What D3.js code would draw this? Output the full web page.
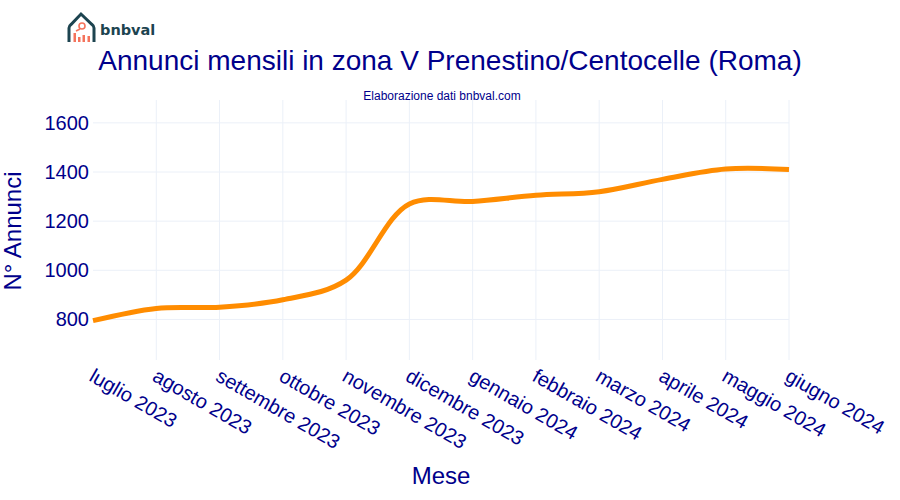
<!DOCTYPE html>
<html>
<head>
<meta charset="utf-8">
<script src="https://cdn.jsdelivr.net/npm/d3@7"></script>
<style>
  html, body { margin: 0; padding: 0; background: #fff; }
  text { font-family: "Liberation Sans", Arial, sans-serif; }
</style>
</head>
<body>
<div id="chart"></div>
<script>
// valori
const mesi = ["luglio 2023", "agosto 2023", "settembre 2023", "ottobre 2023", "novembre 2023", "dicembre 2023",
  "gennaio 2024", "febbraio 2024", "marzo 2024", "aprile 2024", "maggio 2024", "giugno 2024"];
const annunci = [795, 845, 850, 880, 960, 1270, 1280, 1305, 1320, 1370, 1412, 1410];
const yTicks = [800, 1000, 1200, 1400, 1600];

const width = 900, height = 500;
const blu = "#00008b";

const svg = d3.select("#chart").append("svg")
  .attr("width", width)
  .attr("height", height)
  .style("display", "block");

const x = d3.scalePoint().domain(mesi).range([93, 789]);
const y = d3.scaleLinear().domain([635, 1693]).range([360, 100]);

// griglia
svg.append("g").selectAll("line").data(mesi.slice(1)).enter().append("line")
  .attr("x1", d => x(d)).attr("x2", d => x(d))
  .attr("y1", 100).attr("y2", 360)
  .attr("stroke", "#ebf0f8").attr("stroke-width", 1);
svg.append("g").selectAll("line").data(yTicks).enter().append("line")
  .attr("x1", 93).attr("x2", 789)
  .attr("y1", d => y(d)).attr("y2", d => y(d))
  .attr("stroke", "#ebf0f8").attr("stroke-width", 1);

// linea
const line = d3.line()
  .x((d, i) => x(mesi[i]))
  .y(d => y(d))
  .curve(d3.curveCatmullRom.alpha(0.5));
svg.append("path").datum(annunci)
  .attr("d", line)
  .attr("fill", "none")
  .attr("stroke", "#ff8c00")
  .attr("stroke-width", 5);

// etichette assi
svg.append("g").selectAll("text").data(yTicks).enter().append("text")
  .attr("x", 89).attr("y", d => y(d) + 7)
  .attr("text-anchor", "end")
  .attr("font-size", 20).attr("fill", blu)
  .text(d => d);
svg.append("g").selectAll("text").data(mesi).enter().append("text")
  .attr("transform", d => "translate(" + (x(d) - 5) + ",380) rotate(30)")
  .attr("font-size", 20).attr("fill", blu)
  .text(d => d);

// titoli
svg.append("text").attr("x", 450).attr("y", 70)
  .attr("text-anchor", "middle").attr("font-size", 28).attr("fill", blu)
  .text("Annunci mensili in zona V Prenestino/Centocelle (Roma)");
svg.append("text").attr("x", 442).attr("y", 100)
  .attr("text-anchor", "middle").attr("font-size", 12).attr("fill", blu)
  .text("Elaborazione dati bnbval.com");
svg.append("text").attr("x", 441).attr("y", 484)
  .attr("text-anchor", "middle").attr("font-size", 24).attr("fill", blu)
  .text("Mese");
svg.append("text").attr("transform", "translate(21,231) rotate(-90)")
  .attr("text-anchor", "middle").attr("font-size", 24).attr("fill", blu)
  .text("N° Annunci");

// logo
const logo = svg.append("g");
logo.append("path")
  .attr("d", "M69 42 V28 Q69 26 71 24.5 L81 14 L92 24.5 Q94 26 94 28 V42")
  .attr("fill", "none").attr("stroke", "#1d4450").attr("stroke-width", 3);
logo.append("circle").attr("cx", 82).attr("cy", 26).attr("r", 3)
  .attr("fill", "none").attr("stroke", "#f4735c").attr("stroke-width", 1.6);
logo.append("line").attr("x1", 80).attr("y1", 29).attr("x2", 76).attr("y2", 31)
  .attr("stroke", "#f4735c").attr("stroke-width", 1.6);
logo.append("g").selectAll("rect").data([[73.5, 33, 9], [78, 37, 5], [82.5, 35, 7], [87.5, 36, 6]]).enter().append("rect")
  .attr("x", d => d[0]).attr("y", d => d[1])
  .attr("width", 2.5).attr("height", d => d[2])
  .attr("fill", "#f4735c");
logo.append("text").attr("x", 100).attr("y", 35)
  .attr("font-size", 14.5).attr("font-weight", "bold")
  .attr("fill", "#1d4450").style("font-family", "'DejaVu Sans', sans-serif")
  .text("bnbval");
</script>
</body>
</html>
